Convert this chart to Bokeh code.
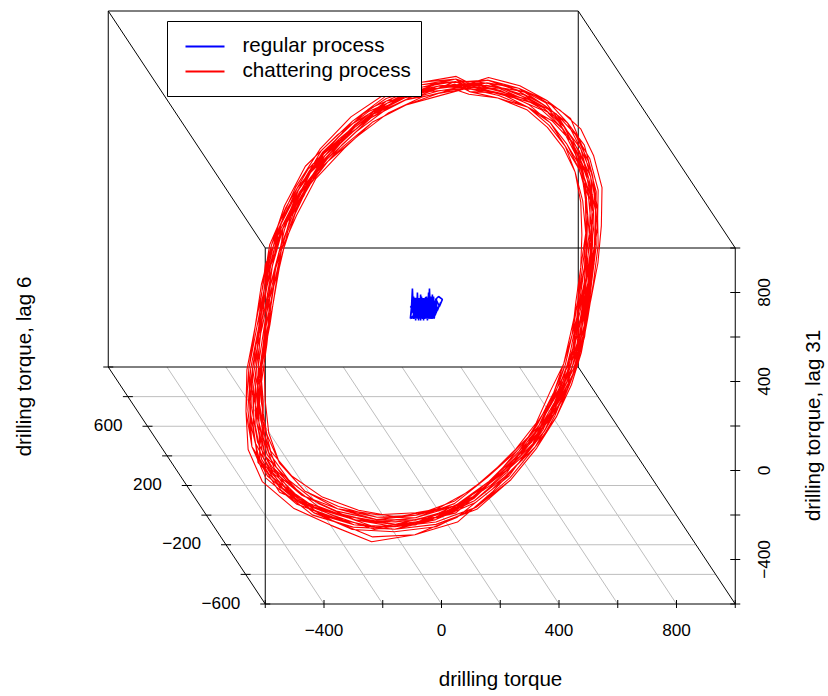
from bokeh.plotting import figure
from bokeh.embed import file_html
from bokeh.resources import INLINE
from bokeh.core.properties import value
import math

# Tick values of the three axes
x_ticks = [-600, -400, -200, 0, 200, 400, 600, 800, 1000]
x_labels = [-400, 0, 400, 800]
y_ticks = [-600, -400, -200, 0, 200, 400, 600, 800, 1000]
y_labels = [-600, -200, 200, 600]
z_ticks = [-600, -400, -200, 0, 200, 400, 600, 800, 1000]
z_labels = [-400, 0, 400, 800]

# Chattering orbit in projected torque units
# (the picture shows a 3D cloud flattened on to the front plane).
orbit_h = [99, 201, 303, 381, 439, 480, 507, 511, 500, 483, 463, 439, 398, 341, 269, 167, 48,
           -89, -225, -361, -480, -575, -620, -633, -630, -609, -589, -562, -514, -446, -344, -242, -123, -10]
orbit_v = [1726, 1708, 1654, 1582, 1483, 1371, 1236, 1079, 921, 764, 607, 467, 337, 189, 67, -67, -180,
           -234, -243, -193, -121, 0, 135, 292, 467, 652, 831, 1002, 1168, 1339, 1483, 1595, 1676, 1717]
# The same orbit read at the samples that fall between those above
orbit2_h = [150, 252, 342, 412, 462, 495, 511, 507, 492, 473, 452, 420, 371, 307, 220, 110, -20,
            -157, -293, -422, -530, -600, -628, -633, -620, -599, -576, -540, -482, -397, -295, -184, -68, 45]
orbit2_v = [1720, 1685, 1620, 1535, 1430, 1305, 1158, 1000, 842, 685, 537, 400, 262, 128, 0, -126, -210,
            -242, -222, -160, -62, 65, 212, 380, 560, 742, 917, 1087, 1255, 1415, 1542, 1640, 1700, 1725]
orbit_centre_h = -65
orbit_centre_v = 720
# Estimated departure of each cycle from that orbit, in steps of about 1.15 percent of radius.
# Single cycles cannot be told apart in the band; these follow its width and its visible outliers.
DEV_STEP = 1.15
cycle_dev = [
    [ 2, 2, 3, 4, 6, 6, 6, 5, 5, 4, 3, 2, 1, 0,-1,-2,-2,-3,-3,-2,-1, 0, 1, 2, 2, 2, 1, 1, 0, 0,-1, 0, 1, 2],
    [ 3, 3, 2, 1, 0,-1,-2,-3,-3,-2,-1, 0, 2, 3, 4, 4, 4, 3, 4, 3, 2, 1, 0,-1,-3,-4,-4,-3,-2, 0, 1, 2, 3, 3],
    [ 1, 0,-1,-2,-3,-4,-5,-5,-4,-3,-3,-3,-3,-3,-2,-2,-1, 0, 1, 2, 3, 4, 4, 5, 4, 3, 2, 3, 4, 4, 3, 2, 1, 1],
    [ 0, 0, 1, 1, 0, 1, 2, 3, 3, 3, 2, 1, 0,-1,-1, 0, 1, 1, 0,-1,-2,-2,-2,-1, 0, 1, 1, 0,-2,-3,-4,-3,-2,-1],
    [-1,-2,-2,-3,-3,-2,-1, 0, 1, 2, 3, 3, 3, 2, 2, 2, 3, 5, 7, 5, 5, 6, 6, 5, 5, 4, 4, 3, 2, 1, 0,-1,-1,-1],
    [ 2, 1, 1, 1, 2, 3, 3, 2, 1, 0,-1,-2,-3,-3,-4,-4,-3,-3,-4,-4,-4,-3,-3,-3,-4,-3,-2,-1, 1, 2, 2, 1, 0, 1],
    [-2,-3,-2,-2,-2,-1, 0, 1, 0,-1,-3,-4,-5,-4,-4,-4,-3,-2,-1, 0, 2, 3, 4, 3, 2, 0,-1,-2,-2,-2,-3,-3,-3,-2],
    [ 4, 4, 4, 5, 3, 2, 1, 1, 2, 3, 4, 4, 4, 4, 5, 5, 3, 2, 2, 1, 1, 0, 0, 1, 0, 1, 2, 3, 3, 4, 5, 5, 4, 4],
    [ 1, 1, 1, 2, 3, 4, 4, 3, 2, 1, 1, 0, 0, 1, 2, 3, 5, 5, 5, 3, 2, 1, 2, 3, 4, 4, 3, 4, 3, 2, 2, 3, 2, 1],
    [-1,-1, 0, 0,-1,-2,-2,-2,-1,-2,-2,-1, 0, 0,-1,-1, 0, 1, 2, 2, 1, 0,-1,-2,-2,-1, 0, 1,-1,-2,-2,-1, 0,-1],
    [-3,-3,-3,-4,-4,-4,-4,-3,-2,-2,-1, 0, 1, 2, 1, 0,-1,-1,-2,-2,-3,-4,-4,-3,-2,-2,-3,-3,-4,-4,-4,-3,-3,-3],
    [ 2, 3, 4, 3, 2, 1, 1, 1, 0, 0, 1, 2, 3, 4, 5, 4, 2, 1, 0, 0,-1,-1,-1,-1,-2,-1, 0, 2, 2, 1, 0, 1, 2, 2],
    [ 0,-1,-2,-1, 0,-1,-2,-3,-4,-4,-3,-3,-2,-2,-3,-4,-4,-3,-2,-1,-1,-1,-2,-2,-3,-4,-4,-3,-1, 0, 1, 1, 0, 0],
    [ 3, 2, 1, 0, 1, 2, 3, 4, 4, 4, 3, 3, 2, 0,-1, 0, 0,-1, 0, 1, 4, 3, 3, 3, 2, 0, 0, 0, 1, 3, 3, 4, 4, 3],
    [-2,-1, 0, 1, 0, 0, 1, 0,-1, 1, 2, 1, 0,-1,-2,-2,-2,-2,-3,-3,-3,-4,-5,-5,-4,-3,-3,-4,-3,-2,-1, 0,-1,-2],
    [ 1, 2, 2, 3, 4, 3, 2, 2, 3, 4, 4, 3, 4, 3, 2, 1, 1, 2, 3, 4, 3, 2, 1, 0, 1, 3, 4, 1, 0,-1, 0, 1, 3, 2],
    [-1,-1, 1, 2, 1, 1, 0,-1,-2,-3,-4,-4,-3,-2,-3,-1,-2,-4,-4,-2,-1,-2,-3,-2,-1,-1,-2,-2,-2,-3,-2,-1, 1, 0],
    [ 2, 3, 3, 1, 0,-1,-3,-2, 0, 2, 1,-1,-2, 1, 3, 2, 1, 0,-1, 1, 2, 4, 2, 1, 0, 2, 3, 2, 1, 1, 3, 3, 2, 3],
    [ 0, 0,-1,-2,-2,-2,-1, 0, 2, 3, 4, 3, 2, 0, 0,-1, 0, 1, 1, 0, 1, 2, 4, 4, 3, 2, 2, 1, 3, 2, 1, 0, 0, 1],
    [ 1, 2, 1, 0,-1,-1,-2, 0, 1, 2, 1, 2, 1, 1, 0,-1,-1, 0, 0,-1,-2, 0,-1, 2, 1, 2, 0, 0,-1, 0,-1, 1, 1, 0],
    [-1, 1, 2, 2, 3, 3, 3, 2, 3, 1, 0,-2,-1,-2, 0,-1, 1, 0, 2, 1, 2,-1,-2,-4,-2,-3,-1,-3,-1,-2, 0,-1, 1, 1],
    [ 2, 0, 1, 0, 1,-1, 1,-1, 0,-1, 0,-2, 1,-2, 1, 1, 0, 2, 2, 3, 0, 3,-1, 0,-3,-1,-4, 0,-3, 1, 0, 2,-1, 2],
]

# Regular process: the small scribble at the middle, same projected units
regular_h = [-99, -106, -102, -99, -95, -95, -92, -92, -88, -85, -85, -82, -78, -78, -75, -71, -71, -68, -65, -65,
             -61, -58, -58, -54, -51, -51, -48, -44, -44, -41, -37, -37, -34, -31, -31, -27, -24, -24, -20, -17,
             -10, 3, -7, -20, -14, -3, -24, -44, -20, -37, -61, -85, -106, -92, -102, -88, -106, -75, -48, -31,
             -100, -30, -96, -28, -92, -24, -88, -26, -84, -22, -80, -24, -76, -20, -72, -24, -68, -22, -64, -26,
             -60, -30, -90, -40, -95, -35, -85, -30, -100, -45, -90, -50, -98, -33, -88, -27, -70, -35, -55, -25,
             -98, -28, -100, -26, -102, -24, -100, -25, -102, -26, -100, -24, -101, -23, -99, -26, -98, -28, -96, -30,
             -98, -30, -95, -32, -97, -34]
regular_v = [746, 683, 737, 818, 683, 782, 692, 773, 674, 764, 683, 800, 674, 773, 683, 791, 674, 782, 683, 773,
             674, 764, 683, 773, 683, 782, 674, 800, 683, 818, 683, 782, 692, 791, 683, 782, 692, 764, 701, 773,
             782, 769, 737, 773, 719, 755, 692, 683, 710, 692, 683, 692, 683, 701, 719, 710, 737, 728, 719, 737,
             752, 748, 742, 740, 736, 732, 728, 724, 720, 716, 712, 708, 704, 700, 696, 692, 690, 686, 700, 760,
             770, 740, 764, 730, 758, 720, 752, 712, 746, 704, 740, 696, 734, 690, 728, 700, 775, 690, 780, 710,
             768, 764, 760, 756, 752, 748, 744, 740, 736, 732, 728, 724, 720, 716, 712, 708, 704, 700, 696, 692,
             688, 684, 774, 770, 684, 690]

# Scale of the picture: units per canvas pixel, and where the front plane sits
X_PX = 470 / 1600
Z_PX = 356 / 1600
ORIGIN_PX = (441, 470)
DEPTH_X = -157 / 470
DEPTH_Z = 237 / 356


def ux(px):
    return (px - ORIGIN_PX[0]) / X_PX


def uy(py):
    return (ORIGIN_PX[1] - py) / Z_PX


def project(x, y, z):
    return x + DEPTH_X * (y + 600), z + DEPTH_Z * (y + 600)


p = figure(width=828, height=696, output_backend="svg", toolbar_location=None,
           x_range=(ux(0), ux(828)), y_range=(uy(696), uy(0)),
           min_border=0, min_border_left=0, min_border_right=0, min_border_top=0, min_border_bottom=0,
           x_axis_type=None, y_axis_type=None, outline_line_color=None)
p.grid.visible = False
p.background_fill_color = "white"
p.border_fill_color = "white"


def seg(a, b, color="black", width=1.0):
    (x0, y0), (x1, y1) = a, b
    p.line([x0, x1], [y0, y1], line_color=color, line_width=width)


# floor grid
for x in x_ticks[1:-1]:
    seg(project(x, -600, -600), project(x, 1000, -600), "#bebebe")
for y in y_ticks[1:-1]:
    seg(project(-600, y, -600), project(1000, y, -600), "#bebebe")

# box
corners = [
    ((-600, -600, -600), (1000, -600, -600)), ((-600, 1000, -600), (1000, 1000, -600)),
    ((-600, -600, -600), (-600, 1000, -600)), ((1000, -600, -600), (1000, 1000, -600)),
    ((-600, -600, -600), (-600, -600, 1000)), ((1000, -600, -600), (1000, -600, 1000)),
    ((-600, 1000, -600), (-600, 1000, 1000)), ((1000, 1000, -600), (1000, 1000, 1000)),
    ((-600, -600, 1000), (1000, -600, 1000)), ((-600, 1000, 1000), (1000, 1000, 1000)),
    ((-600, -600, 1000), (-600, 1000, 1000)), ((1000, -600, 1000), (1000, 1000, 1000)),
]
for a, b in corners:
    seg(project(*a), project(*b))

# ticks
for x in x_ticks:
    h, v = project(x, -600, -600)
    p.line([h, h], [v + 4 / Z_PX, v - 4 / Z_PX], line_color="black")
for y in y_ticks:
    h, v = project(-600, y, -600)
    p.line([h - 5 / X_PX, h + 5 / X_PX], [v, v], line_color="black")
for z in z_ticks:
    h, v = project(1000, -600, z)
    p.line([h - 5 / X_PX, h + 5 / X_PX], [v, v], line_color="black")

# data
red_h, red_v = [], []
for i, row in enumerate(cycle_dev):
    hs, vs = (orbit_h, orbit_v) if i % 2 == 0 else (orbit2_h, orbit2_v)
    for h0, v0, d in zip(hs, vs, row):
        f = 1 + d * DEV_STEP / 100
        red_h.append(orbit_centre_h + (h0 - orbit_centre_h) * f)
        red_v.append(orbit_centre_v + (v0 - orbit_centre_v) * f)
p.line(red_h, red_v, line_color="#ff0000", line_width=1.1)
p.line(regular_h, regular_v, line_color="#0000ff", line_width=1.6)

FONT = value("Liberation Sans")
TICK = "17.2px"
TITLE = "20.6px"


def txt(x, y, s, size, align="center", base="middle", angle=0.0, color="black"):
    p.text([x], [y], text=[s], text_font=FONT, text_font_size=size, text_align=align,
           text_baseline=base, angle=angle, text_color=color)


def lab(v):
    return ("\u2212" + str(-v)) if v < 0 else str(v)


for x in x_labels:
    h, v = project(x, -600, -600)
    txt(h, uy(629), lab(x), TICK)
for y in y_labels:
    h, v = project(-600, y, -600)
    txt(h - 25 / X_PX, v + 1.5 / Z_PX, lab(y), TICK, align="right")
for z in z_labels:
    h, v = project(1000, -600, z)
    txt(ux(763), v, lab(z), TICK, angle=math.pi / 2)

txt(ux(500), uy(678), "drilling torque", TITLE)
txt(ux(23), uy(366), "drilling torque, lag 6", TITLE, angle=math.pi / 2)
txt(ux(812), uy(425), "drilling torque, lag 31", TITLE, angle=math.pi / 2)

# legend
p.quad(left=[ux(167)], right=[ux(421)], top=[uy(21)], bottom=[uy(96)], fill_color="white", line_color="black")
p.line([ux(185), ux(224)], [uy(46), uy(46)], line_color="#0000ff", line_width=2)
p.line([ux(185), ux(224)], [uy(71), uy(71)], line_color="#ff0000", line_width=2)
txt(ux(242), uy(44), "regular process", TITLE, align="left")
txt(ux(242), uy(69), "chattering process", TITLE, align="left")

open("out.html", "w").write(file_html(p, INLINE))
